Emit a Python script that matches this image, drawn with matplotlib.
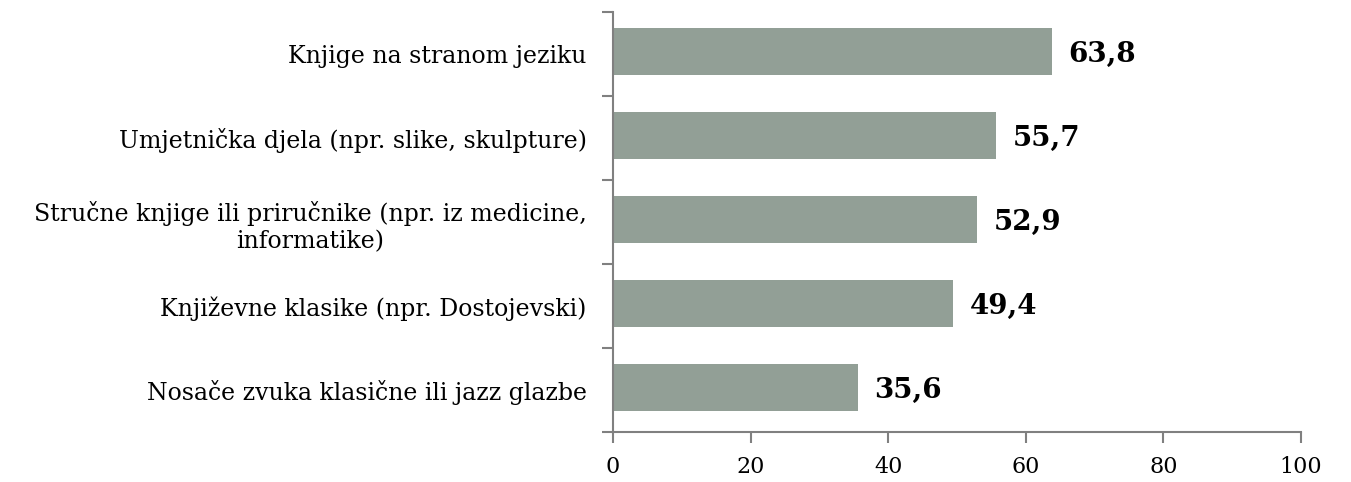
import numpy as np
import matplotlib
matplotlib.use('agg')
from matplotlib import pyplot as plt

# Data (top to bottom as shown)
categories = ['Knjige na stranom jeziku',
              'Umjetnička djela (npr. slike, skulpture)',
              'Stručne knjige ili priručnike (npr. iz medicine,\ninformatike)',
              'Književne klasike (npr. Dostojevski)',
              'Nosače zvuka klasične ili jazz glazbe']
values = [63.8, 55.7, 52.9, 49.4, 35.6]
xticks = [0, 20, 40, 60, 80, 100]

bar_color = '#929f96'
axis_color = '#808080'

plt.rcParams['font.family'] = ['DejaVu Serif']

fig = plt.figure(figsize=(13.51, 4.82), dpi=100)
ax = fig.add_axes([0.4537, 0.1037, 0.963 - 0.4537, 0.975 - 0.1037])

pos = np.arange(len(categories))[::-1]
ax.barh(pos + 0.03, values, height=0.56, color=bar_color)

ax.set_xlim(0, 100)
ax.set_ylim(-0.5, len(categories) - 0.5)
ax.set_xticks(xticks)
ax.set_xticklabels([str(t) for t in xticks], fontsize=16)

# category boundaries as ticks, labels at centers
ax.set_yticks(np.arange(-0.5, len(categories), 1.0))
ax.set_yticklabels([])
ax.set_yticks(pos, minor=True)
ax.set_yticklabels(categories, minor=True, fontsize=17, ha='right',
                   multialignment='center', linespacing=1.25)
ax.tick_params(axis='y', which='minor', length=0, pad=19)
ax.tick_params(axis='y', which='major', length=8, width=1.5, color=axis_color, direction='out')
ax.tick_params(axis='x', length=8, width=1.5, color=axis_color, direction='out', pad=9)

for s in ['top', 'right']:
    ax.spines[s].set_visible(False)
for s in ['left', 'bottom']:
    ax.spines[s].set_color(axis_color)
    ax.spines[s].set_linewidth(1.5)

# value labels
for p, v in zip(pos, values):
    ax.annotate(('%.1f' % v).replace('.', ','), (v, p), xytext=(12, 0),
                textcoords='offset points', va='center', ha='left',
                fontsize=20, fontweight='bold')

plt.savefig('out.png', dpi=100)
